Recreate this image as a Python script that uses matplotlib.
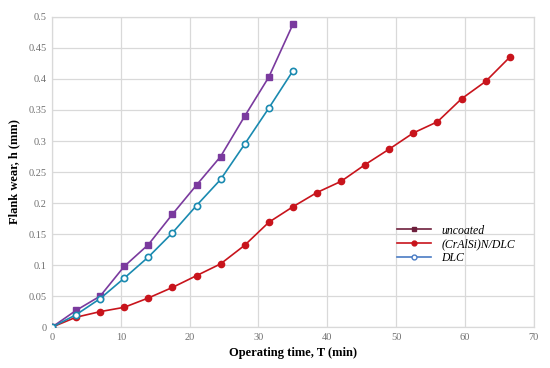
import matplotlib.pyplot as plt
from matplotlib.lines import Line2D

# operating time (min)
t_short = [0, 3.5, 7, 10.5, 14, 17.5, 21, 24.5, 28, 31.5, 35]
t_long = [0, 3.5, 7, 10.5, 14, 17.5, 21, 24.5, 28, 31.5, 35, 38.5, 42,
          45.5, 49, 52.5, 56, 59.5, 63, 66.5]

# flank wear (mm)
uncoated = [0, 0.027, 0.050, 0.098, 0.133, 0.182, 0.229, 0.275, 0.340, 0.403, 0.488]
dlc = [0, 0.020, 0.046, 0.079, 0.113, 0.152, 0.196, 0.238, 0.295, 0.353, 0.413]
craisin = [0, 0.016, 0.025, 0.032, 0.047, 0.064, 0.083, 0.102, 0.132, 0.169, 0.194,
           0.217, 0.235, 0.262, 0.287, 0.313, 0.331, 0.368, 0.396, 0.435]

xticks = [0, 10, 20, 30, 40, 50, 60, 70]
yticks = [0, 0.05, 0.1, 0.15, 0.2, 0.25, 0.3, 0.35, 0.4, 0.45, 0.5]

plt.rcParams['font.family'] = ['Liberation Serif', 'DejaVu Serif']

fig = plt.figure(figsize=(5.5, 3.68), dpi=100)
ax = fig.add_axes([0.0945, 0.111, 0.876, 0.843])

purple = '#7a3a9e'
teal = '#1a8ab0'
red = '#c8141c'

ax.plot(t_short, uncoated, color=purple, lw=1.2, marker='s', ms=4.5,
        mfc=purple, mec=purple, zorder=3)
ax.plot(t_long, craisin, color=red, lw=1.2, marker='o', ms=4.5,
        mfc=red, mec=red, zorder=3)
ax.plot(t_short, dlc, color=teal, lw=1.2, marker='o', ms=4.5,
        mfc='white', mec=teal, mew=1.2, zorder=4)

ax.set_xlim(0, 70)
ax.set_ylim(0, 0.5)
ax.set_xticks(xticks)
ax.set_xticklabels([str(v) for v in xticks])
ax.set_yticks(yticks)
ax.set_yticklabels(['0' if v == 0 else ('%g' % v) for v in yticks])
ax.tick_params(length=0, labelsize=7.5, colors='#707070', pad=4)
ax.grid(True, color='#d9d9d9', lw=0.9)
for s in ax.spines.values():
    s.set_color('#d9d9d9')
    s.set_linewidth(0.9)
ax.set_axisbelow(True)

ax.set_xlabel('Operating time, T (min)', fontsize=9, fontweight='bold', labelpad=4)
ax.set_ylabel('Flank wear, h (mm)', fontsize=9, fontweight='bold', labelpad=6)

handles = [
    Line2D([], [], color='#6e1f3c', lw=1.2, marker='s', ms=3.5),
    Line2D([], [], color=red, lw=1.2, marker='o', ms=3.5),
    Line2D([], [], color='#4a7cc4', lw=1.2, marker='o', ms=3.5, mfc='white'),
]
ax.legend(handles, ['uncoated', '(CrAlSi)N/DLC', 'DLC'], loc='upper left',
          bbox_to_anchor=(0.695, 0.365), frameon=False,
          prop={'style': 'italic', 'size': 8.5}, handlelength=2.8,
          labelspacing=0.15, handletextpad=0.9)

fig.savefig('out.png', dpi=100)
